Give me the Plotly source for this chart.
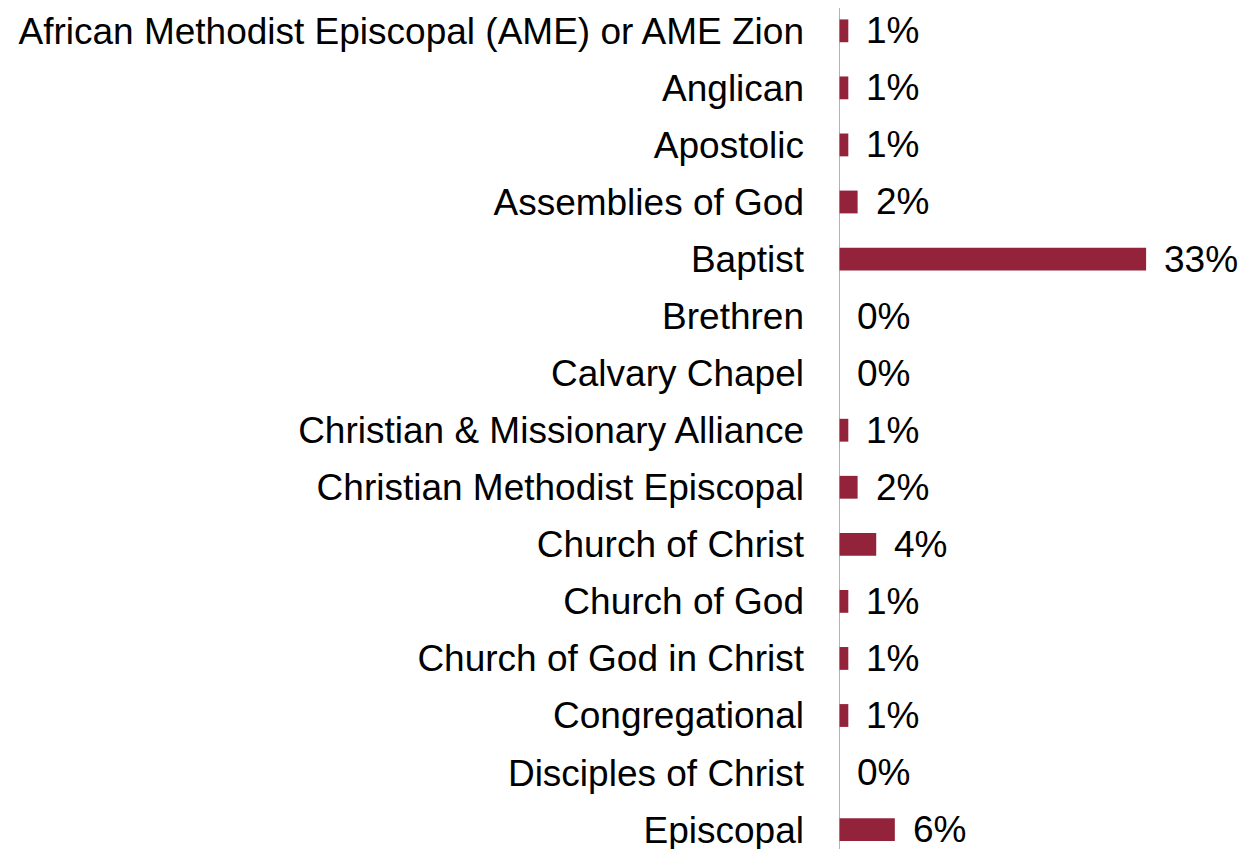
import plotly.graph_objects as go

categories = [
    "African Methodist Episcopal (AME) or AME Zion",
    "Anglican",
    "Apostolic",
    "Assemblies of God",
    "Baptist",
    "Brethren",
    "Calvary Chapel",
    "Christian & Missionary Alliance",
    "Christian Methodist Episcopal",
    "Church of Christ",
    "Church of God",
    "Church of God in Christ",
    "Congregational",
    "Disciples of Christ",
    "Episcopal",
]
values = [1, 1, 1, 2, 33, 0, 0, 1, 2, 4, 1, 1, 1, 0, 6]
labels = [f"{v}%" for v in values]

FONT = "Liberation Sans, Arial"
SIZE = 37

fig = go.Figure()
fig.add_trace(go.Bar(
    x=values, y=categories, orientation="h",
    marker=dict(color="#92233A", line=dict(width=0)),
    hoverinfo="skip",
))

for c, v, t in zip(categories, values, labels):
    fig.add_annotation(x=v, y=c, text=t, showarrow=False, xanchor="left",
                       xshift=16, font=dict(family=FONT, size=SIZE, color="black"))

# vertical category axis line at x = 0
fig.add_shape(type="line", xref="x", yref="paper", x0=0, x1=0, y0=-0.05, y1=1.007,
              line=dict(color="#9A9A9A", width=1.5), layer="above")

fig.update_layout(
    width=1247, height=849,
    margin=dict(l=831, r=0, t=0, b=0, autoexpand=False),
    paper_bgcolor="white", plot_bgcolor="white",
    bargap=0.6,
    showlegend=False,
    font=dict(family=FONT, size=SIZE, color="black"),
)
fig.update_xaxes(range=[0, 44.7], visible=False, fixedrange=True, automargin=False)
fig.update_yaxes(
    categoryorder="array", categoryarray=categories,
    range=[14.48, -0.4], automargin=False,
    showline=False,
    showgrid=False, zeroline=False, ticks="",
    ticklabelstandoff=34,
    tickfont=dict(family=FONT, size=SIZE, color="black"),
)

fig.write_html("out.html")
